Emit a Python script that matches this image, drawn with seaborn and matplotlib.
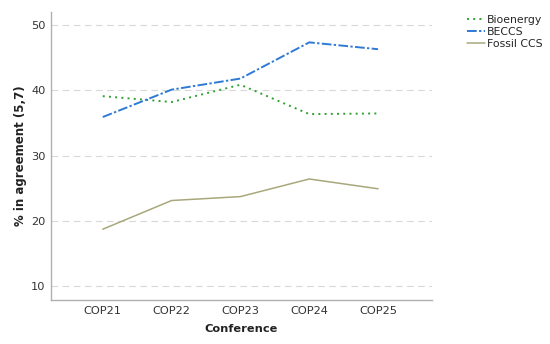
import matplotlib

matplotlib.use("agg")
import matplotlib.pyplot as plt
import pandas as pd
import seaborn as sns

CONFERENCES = ["COP21", "COP22", "COP23", "COP24", "COP25"]
BIOENERGY = [39.1, 38.2, 40.85, 36.35, 36.45]
BECCS = [35.9, 40.1, 41.8, 47.35, 46.3]
FOSSIL_CCS = [18.7, 23.1, 23.7, 26.4, 24.9]

SERIES = ["Bioenergy", "BECCS", "Fossil CCS"]
COLORS = {"Bioenergy": "#2ea02e", "BECCS": "#2f7ad6", "Fossil CCS": "#a8a87c"}
DASHES = {"Bioenergy": (1, 2.2), "BECCS": (5, 1.2, 1.2, 1.2), "Fossil CCS": ""}


def main():
    sns.set_theme(style="white")
    plt.rcParams["font.family"] = ["DejaVu Sans"]
    df = pd.DataFrame({
        "Conference": CONFERENCES * 3,
        "value": BIOENERGY + BECCS + FOSSIL_CCS,
        "series": [s for s in SERIES for _ in CONFERENCES],
    })

    fig = plt.figure(figsize=(5.5, 3.44), dpi=100)
    ax = fig.add_axes([0.093, 0.128, 0.692, 0.837])
    sns.lineplot(data=df, x="Conference", y="value", hue="series", style="series",
                 palette=COLORS, dashes=DASHES, hue_order=SERIES, style_order=SERIES,
                 linewidth=1.4, ax=ax)
    for line in ax.lines:
        if line.get_color() == COLORS["Fossil CCS"]:
            line.set_linewidth(1.1)

    ax.set_xlim(-0.75, 4.78)
    ax.set_ylim(7.85, 52)
    ax.set_yticks([10, 20, 30, 40, 50])
    ax.yaxis.grid(True, linestyle=(0, (6, 4)), color="#d8d8d8", linewidth=0.8)
    ax.set_axisbelow(True)
    for side in ["top", "right"]:
        ax.spines[side].set_visible(False)
    for side in ["left", "bottom"]:
        ax.spines[side].set_color("#b0b0b0")
        ax.spines[side].set_linewidth(1.0)
    ax.tick_params(axis="both", labelsize=8.2, colors="#333333", length=0, pad=4)
    ax.set_xlabel("Conference", fontsize=8.2, fontweight="bold", color="#222222", labelpad=6)
    ax.set_ylabel("% in agreement (5,7)", fontsize=8.5, fontweight="bold", color="#222222", labelpad=3)

    handles, labels = ax.get_legend_handles_labels()
    ax.legend(handles, labels, loc="upper left", bbox_to_anchor=(1.08, 1.005), frameon=False,
              fontsize=7.8, handlelength=1.7, handletextpad=0.2, labelspacing=0.2,
              borderaxespad=0.0)

    fig.savefig("out.png", dpi=100)
    plt.close(fig)


if __name__ == "__main__":
    main()
